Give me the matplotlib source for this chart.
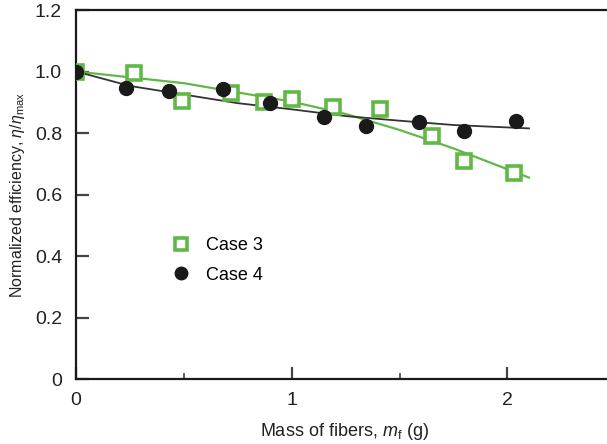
import matplotlib
matplotlib.use('Agg')
import matplotlib.pyplot as plt
from matplotlib.ticker import FixedLocator

plt.rcParams['font.family'] = ['Liberation Sans', 'DejaVu Sans']
plt.rcParams['mathtext.fontset'] = 'custom'
plt.rcParams['mathtext.rm'] = 'Liberation Sans'
plt.rcParams['mathtext.it'] = 'Liberation Sans:italic'

# Case 3 (green squares)
case3_x = [0.0, 0.27, 0.49, 0.72, 0.87, 1.0, 1.19, 1.41, 1.65, 1.80, 2.03]
case3_y = [1.0, 0.995, 0.905, 0.93, 0.90, 0.91, 0.885, 0.878, 0.79, 0.71, 0.67]
# Case 4 (black circles)
case4_x = [0.0, 0.23, 0.43, 0.68, 0.90, 1.15, 1.345, 1.59, 1.80, 2.04]
case4_y = [1.0, 0.946, 0.937, 0.943, 0.898, 0.852, 0.823, 0.836, 0.807, 0.839]

# trend lines
fit3_x = [0.0, 0.5, 1.0, 1.25, 1.5, 1.75, 2.1]
fit3_y = [1.0, 0.962, 0.902, 0.862, 0.81, 0.75, 0.655]
fit4_x = [0.0, 0.25, 0.5, 0.75, 1.0, 1.25, 1.5, 1.75, 2.1]
fit4_y = [1.0, 0.953, 0.925, 0.897, 0.877, 0.855, 0.84, 0.826, 0.815]

green = '#62b847'
dark = '#1a1a1a'

fig = plt.figure(figsize=(6.07, 4.44), dpi=100)
ax = fig.add_axes([76 / 607, 1 - 379 / 444, 1 - 76 / 607 + 0.01, (379 - 10) / 444])

ax.plot(fit3_x, fit3_y, color=green, lw=1.6, zorder=2)
ax.plot(fit4_x, fit4_y, color='#333333', lw=1.3, zorder=2)
ax.plot(case3_x, case3_y, ls='none', marker='s', ms=10, mfc='white', mec=green,
        mew=2.6, label='Case 3', zorder=3)
ax.plot(case4_x, case4_y, ls='none', marker='o', ms=10, mfc=dark, mec=dark,
        label='Case 4', zorder=4)

ax.set_xlim(0, 2.49)
ax.set_ylim(0, 1.2)

ax.spines['right'].set_visible(False)
for s in ['left', 'bottom', 'top']:
    ax.spines[s].set_linewidth(1.6)
    ax.spines[s].set_color(dark)

ax.yaxis.set_major_locator(FixedLocator([0, 0.2, 0.4, 0.6, 0.8, 1.0, 1.2]))
ax.set_yticklabels(['0', '0.2', '0.4', '0.6', '0.8', '1.0', '1.2'])
ax.xaxis.set_major_locator(FixedLocator([0, 1, 2]))
ax.set_xticklabels(['0', '1', '2'])
ax.xaxis.set_minor_locator(FixedLocator([0.5, 1.5]))

ax.tick_params(axis='y', direction='in', length=9, width=1.6, color='#444444',
               labelsize=14, pad=10, labelcolor='#222222')
ax.tick_params(axis='x', which='major', direction='in', length=9, width=1.6,
               color='#444444', labelsize=14, pad=9, labelcolor='#222222')
ax.tick_params(axis='x', which='minor', direction='in', length=4.5, width=1.2,
               color='#444444')

ax.set_ylabel(r'Normalized efficiency, $\it{\eta}/\it{\eta}_{\rm max}$', fontsize=11.5,
              color='#222222', labelpad=6)
ax.set_xlabel(r'Mass of fibers, $\it{m}_{\rm f}$ (g)', fontsize=13, color='#222222',
              labelpad=9)

ax.legend(loc='upper left', bbox_to_anchor=(0.132, 0.428), frameon=False, fontsize=13,
          handletextpad=0.4, labelspacing=0.68, markerscale=0.9)

fig.savefig('out.png', dpi=100)
